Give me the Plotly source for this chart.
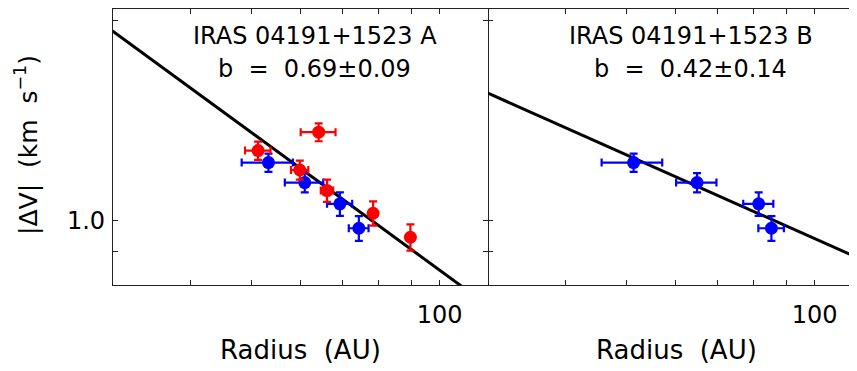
import numpy as np
import plotly.graph_objects as go

# ---------------- data ----------------
# Panel A (IRAS 04191+1523 A)
a_red_x = [51.3, 64.1, 59.8, 66.1, 78.3, 89.8]
a_red_xerr = [2.4, 4.1, 1.9, 1.5, 1.0, 1.0]
a_red_y = [1.275, 1.359, 1.192, 1.110, 1.026, 0.944]
a_red_yerr = [0.040, 0.042, 0.039, 0.043, 0.043, 0.043]

a_blue_x = [53.3, 60.9, 69.3, 74.3]
a_blue_xerr = [5.0, 4.3, 3.2, 2.7]
a_blue_y = [1.223, 1.141, 1.060, 0.974]
a_blue_yerr = [0.039, 0.038, 0.043, 0.042]

# Panel B (IRAS 04191+1523 B)
b_blue_x = [51.4, 64.9, 81.4, 85.3]
b_blue_xerr = [5.7, 4.8, 4.5, 4.0]
b_blue_y = [1.223, 1.141, 1.060, 0.974]
b_blue_yerr = [0.039, 0.038, 0.043, 0.042]

# power-law fits  |dV| = norm * R^(-b)
fit_b = [0.69, 0.42]
fit_norm = [20.2, 6.50]
fit_x = [25.0, 140.0]

panel_names = ["IRAS 04191+1523 A", "IRAS 04191+1523 B"]
fit_labels = ["b\u00a0 =\u00a0 0.69\u00b10.09", "b\u00a0 =\u00a0 0.42\u00b10.14"]

x_tickvals = [40, 50, 60, 70, 80, 90, 100]
x_ticktext = ["", "", "", "", "", "", "100"]
y_tickvals = [0.9, 1.0, 2.0]
y_ticktext = ["", "1.0", ""]

RED = "#ff0000"
BLUE = "#0000ff"
FONT = "DejaVu Sans"
AXC = "#222222"

fig = go.Figure()


def add_fit(i, xa, ya):
    xs = np.array(fit_x)
    ys = fit_norm[i] * xs ** (-fit_b[i])
    fig.add_trace(go.Scatter(x=xs, y=ys, mode="lines",
                             line=dict(color="black", width=3),
                             xaxis=xa, yaxis=ya, showlegend=False, hoverinfo="skip"))


def add_pts(x, xe, y, ye, color, xa, ya):
    fig.add_trace(go.Scatter(
        x=x, y=y, mode="markers",
        marker=dict(color=color, size=13, line=dict(width=0)),
        error_x=dict(type="data", array=xe, color=color, thickness=2.2, width=4),
        error_y=dict(type="data", array=ye, color=color, thickness=2.2, width=4),
        xaxis=xa, yaxis=ya, showlegend=False))


add_fit(0, "x", "y")
add_pts(a_blue_x, a_blue_xerr, a_blue_y, a_blue_yerr, BLUE, "x", "y")
add_pts(a_red_x, a_red_xerr, a_red_y, a_red_yerr, RED, "x", "y")
add_fit(1, "x2", "y2")
add_pts(b_blue_x, b_blue_xerr, b_blue_y, b_blue_yerr, BLUE, "x2", "y2")

# page body adds an 8px offset; figure is sized/placed to compensate
OFF = 8
FW, FH = 857 - OFF, 371 - OFF
PL, PT, PB = 113, 9, 285          # plot-area edges in page pixels
L = PL - OFF
T = PT - OFF
B = FH - (PB - OFF)
W = FW - L
H = PB - PT
split = 375 / W
PX_DEC_X = 626.5
PX_DEC_Y = 664.0
yr = [np.log10(0.8), np.log10(0.8) + H / PX_DEC_Y]

common_x = dict(type="log", showline=True, linecolor=AXC, linewidth=1.3,
                ticks="inside", ticklen=5, tickwidth=1, tickcolor=AXC,
                tickvals=x_tickvals, ticktext=x_ticktext, showgrid=False,
                zeroline=False, tickfont=dict(family=FONT, size=24, color="black"),
                ticklabelstandoff=8)
common_y = dict(type="log", range=yr,
                ticks="inside", ticklen=5, tickwidth=1, tickcolor=AXC,
                tickvals=y_tickvals, ticktext=y_ticktext, showgrid=False,
                zeroline=False, tickfont=dict(family=FONT, size=24, color="black"))

fig.update_layout(
    width=FW, height=FH,
    margin=dict(l=L, r=0, t=T, b=B, pad=0, autoexpand=False),
    paper_bgcolor="white", plot_bgcolor="white",
    font=dict(family=FONT, color="black"),
    xaxis=dict(domain=[0, split], range=[np.log10(30.1), np.log10(30.1) + 375 / PX_DEC_X],
               mirror="ticks", anchor="y", **common_x),
    yaxis=dict(domain=[0, 1], mirror="ticks", anchor="x", showline=True, linecolor=AXC,
               linewidth=1.3, ticklabelstandoff=2, **common_y),
    xaxis2=dict(domain=[split, 1], range=[np.log10(30.1), np.log10(30.1) + (W - 375) / PX_DEC_X],
                mirror="ticks", anchor="y2", **common_x),
    yaxis2=dict(domain=[0, 1], mirror=False, anchor="x2", showline=False,
                showticklabels=False, **common_y),
)


def px2paper_x(px):
    return (px - PL) / W


def py2paper_y(py):
    return (PB - py) / H


annos = []
centers = [315, 691]
for i in range(2):
    annos.append(dict(text=panel_names[i], x=px2paper_x(centers[i]), y=py2paper_y(36),
                      xref="paper", yref="paper", xanchor="center", yanchor="middle",
                      showarrow=False, font=dict(family=FONT, size=24, color="black")))
    annos.append(dict(text=fit_labels[i], x=px2paper_x(centers[i] - 1), y=py2paper_y(69),
                      xref="paper", yref="paper", xanchor="center", yanchor="middle",
                      showarrow=False, font=dict(family=FONT, size=24, color="black")))

for cx in [300, 676]:
    annos.append(dict(text="Radius\u00a0 (AU)", x=px2paper_x(cx), y=py2paper_y(350),
                      xref="paper", yref="paper", xanchor="center", yanchor="middle",
                      showarrow=False, font=dict(family=FONT, size=26, color="black")))

annos.append(dict(text="|\u0394V|\u00a0 (km\u00a0 s<sup>\u22121</sup>)", x=px2paper_x(26),
                  y=py2paper_y(145), xref="paper", yref="paper", xanchor="center",
                  yanchor="middle", textangle=-90, showarrow=False,
                  font=dict(family=FONT, size=25, color="black")))

fig.update_layout(annotations=annos)
fig.write_html("out.html")
